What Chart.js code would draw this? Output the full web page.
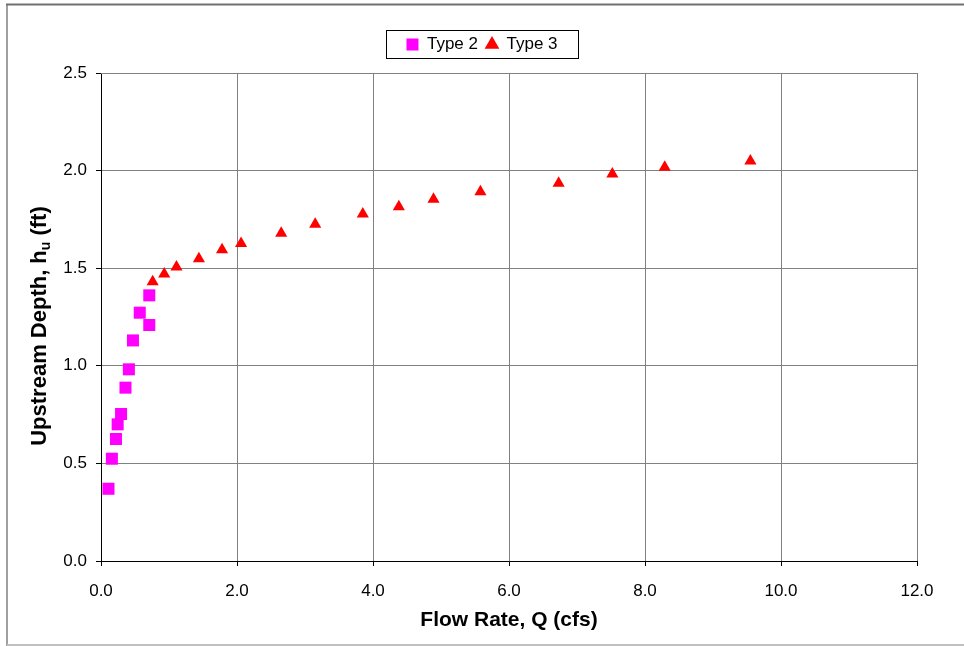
<!DOCTYPE html>
<html>
<head>
<meta charset="utf-8">
<script src="https://cdn.jsdelivr.net/npm/chart.js@4"></script>
<style>
  html, body { margin: 0; padding: 0; background: #fff; }
  #wrap { width: 964px; height: 646px; position: relative; }
</style>
</head>
<body>
<div id="wrap"><canvas id="chart" width="964" height="646"></canvas></div>
<script>
// Type 2 (squares)
const type2Q = [0.11, 0.16, 0.22, 0.245, 0.295, 0.36, 0.41, 0.47, 0.57, 0.71, 0.71];
const type2H = [0.37, 0.524, 0.625, 0.70, 0.753, 0.888, 0.982, 1.13, 1.272, 1.209, 1.361];

// Type 3 (triangles)
const type3Q = [0.76, 0.93, 1.11, 1.44, 1.78, 2.06, 2.65, 3.15, 3.85, 4.38, 4.89, 5.58, 6.73, 7.52, 8.29, 9.55];
const type3H = [1.43, 1.47, 1.506, 1.549, 1.595, 1.626, 1.679, 1.725, 1.778, 1.815, 1.853, 1.892, 1.935, 1.983, 2.017, 2.049];

const seriesNames = ["Type 2", "Type 3"];

const toPoints = (xs, ys) => xs.map((x, i) => ({ x: x, y: ys[i] }));

const FONT = "'Liberation Sans', Arial, sans-serif";

// frame around the whole figure, grey border on plot top/right, legend box, y title with subscript
const extras = {
  id: "extras",
  afterInit(chart) {
    // a bit more room between legend and plot
    const lg = chart.legend;
    if (lg && !lg._patched) {
      const fit = lg.fit;
      lg.fit = function () {
        fit.call(this);
        this.height += 10;
      };
      lg._patched = true;
    }
  },
  beforeDraw(chart) {
    const c = chart.ctx;
    c.save();
    c.fillStyle = "#fff";
    c.fillRect(0, 0, chart.width, chart.height);
    c.lineWidth = 2;
    c.strokeStyle = "#a0a0a0";
    c.beginPath();
    c.moveTo(7, 646);
    c.lineTo(7, 4);
    c.stroke();
    c.strokeStyle = "#707070";
    c.beginPath();
    c.moveTo(6, 4.5);
    c.lineTo(964, 4.5);
    c.stroke();
    c.strokeStyle = "#c0c0c0";
    c.beginPath();
    c.moveTo(7, 645);
    c.lineTo(964, 645);
    c.stroke();
    c.restore();
  },
  afterDraw(chart) {
    const c = chart.ctx;
    const a = chart.chartArea;
    c.save();
    c.strokeStyle = "#808080";
    c.lineWidth = 1;
    c.beginPath();
    c.moveTo(a.left, a.top + 0.5);
    c.lineTo(a.right + 0.5, a.top + 0.5);
    c.lineTo(a.right + 0.5, a.bottom);
    c.stroke();

    // legend border
    const hb = chart.legend.legendHitBoxes;
    if (hb && hb.length) {
      let l = Infinity, r = -Infinity, t = Infinity, b = -Infinity;
      hb.forEach(h => {
        l = Math.min(l, h.left); r = Math.max(r, h.left + h.width);
        t = Math.min(t, h.top); b = Math.max(b, h.top + h.height);
      });
      c.strokeStyle = "#000";
      const cx = (l + r) / 2;
      const x0 = Math.round(cx - 96) + 0.5, y0 = Math.round(t - 6) + 0.5;
      c.strokeRect(x0, y0, 192, Math.round(b + 5) + 0.5 - y0);
    }

    // y axis title with subscript
    c.translate(40, 326);
    c.rotate(-Math.PI / 2);
    c.fillStyle = "#000";
    c.textBaseline = "middle";
    const big = "bold 22px " + FONT;
    const small = "bold 14px " + FONT;
    const p1 = "Upstream Depth, h", p2 = "u", p3 = " (ft)";
    c.font = big; const w1 = c.measureText(p1).width, w3 = c.measureText(p3).width;
    c.font = small; const w2 = c.measureText(p2).width;
    let x = -(w1 + w2 + w3) / 2;
    c.font = big; c.fillText(p1, x, 0); x += w1;
    c.font = small; c.fillText(p2, x, 6); x += w2;
    c.font = big; c.fillText(p3, x, 0);
    c.restore();
  }
};

new Chart(document.getElementById("chart"), {
  type: "scatter",
  data: {
    datasets: [
      {
        label: seriesNames[0],
        data: toPoints(type2Q, type2H),
        pointStyle: "rect",
        pointRadius: 8.5,
        pointHoverRadius: 8.5,
        backgroundColor: "#ff00ff",
        borderColor: "#ff00ff",
        borderWidth: 0,
      },
      {
        label: seriesNames[1],
        data: toPoints(type3Q, type3H),
        pointStyle: "triangle",
        pointRadius: 7,
        pointHoverRadius: 7,
        backgroundColor: "#ff0000",
        borderColor: "#ff0000",
        borderWidth: 0,
      },
    ],
  },
  options: {
    responsive: false,
    animation: false,
    layout: { padding: { left: 47, right: 47, top: 28, bottom: 0 } },
    plugins: {
      tooltip: { enabled: false },
      legend: {
        position: "top",
        labels: {
          usePointStyle: true,
          boxWidth: 12,
          boxHeight: 12,
          padding: 8,
          color: "#000",
          font: { family: FONT, size: 17 },
        },
      },
    },
    scales: {
      x: {
        type: "linear",
        min: 0,
        max: 12,
        ticks: {
          stepSize: 2,
          color: "#000",
          font: { family: FONT, size: 17 },
          padding: 15,
          callback: v => v.toFixed(1),
        },
        grid: { color: "#808080", tickLength: 5, tickColor: "#000" },
        border: { color: "#000", width: 1 },
        title: {
          display: true,
          text: "Flow Rate, Q (cfs)",
          color: "#000",
          font: { family: FONT, size: 21, weight: "bold" },
          padding: { top: 0, bottom: 13 },
        },
        afterFit(scale) { scale.height = 85; },
      },
      y: {
        min: 0,
        max: 2.5,
        ticks: {
          stepSize: 0.5,
          color: "#000",
          font: { family: FONT, size: 17 },
          padding: 9,
          callback: v => v.toFixed(1),
        },
        grid: { color: "#808080", tickLength: 5, tickColor: "#000" },
        border: { color: "#000", width: 1 },
        afterFit(scale) { scale.width = 54; },
      },
    },
  },
  plugins: [extras],
});
</script>
</body>
</html>
